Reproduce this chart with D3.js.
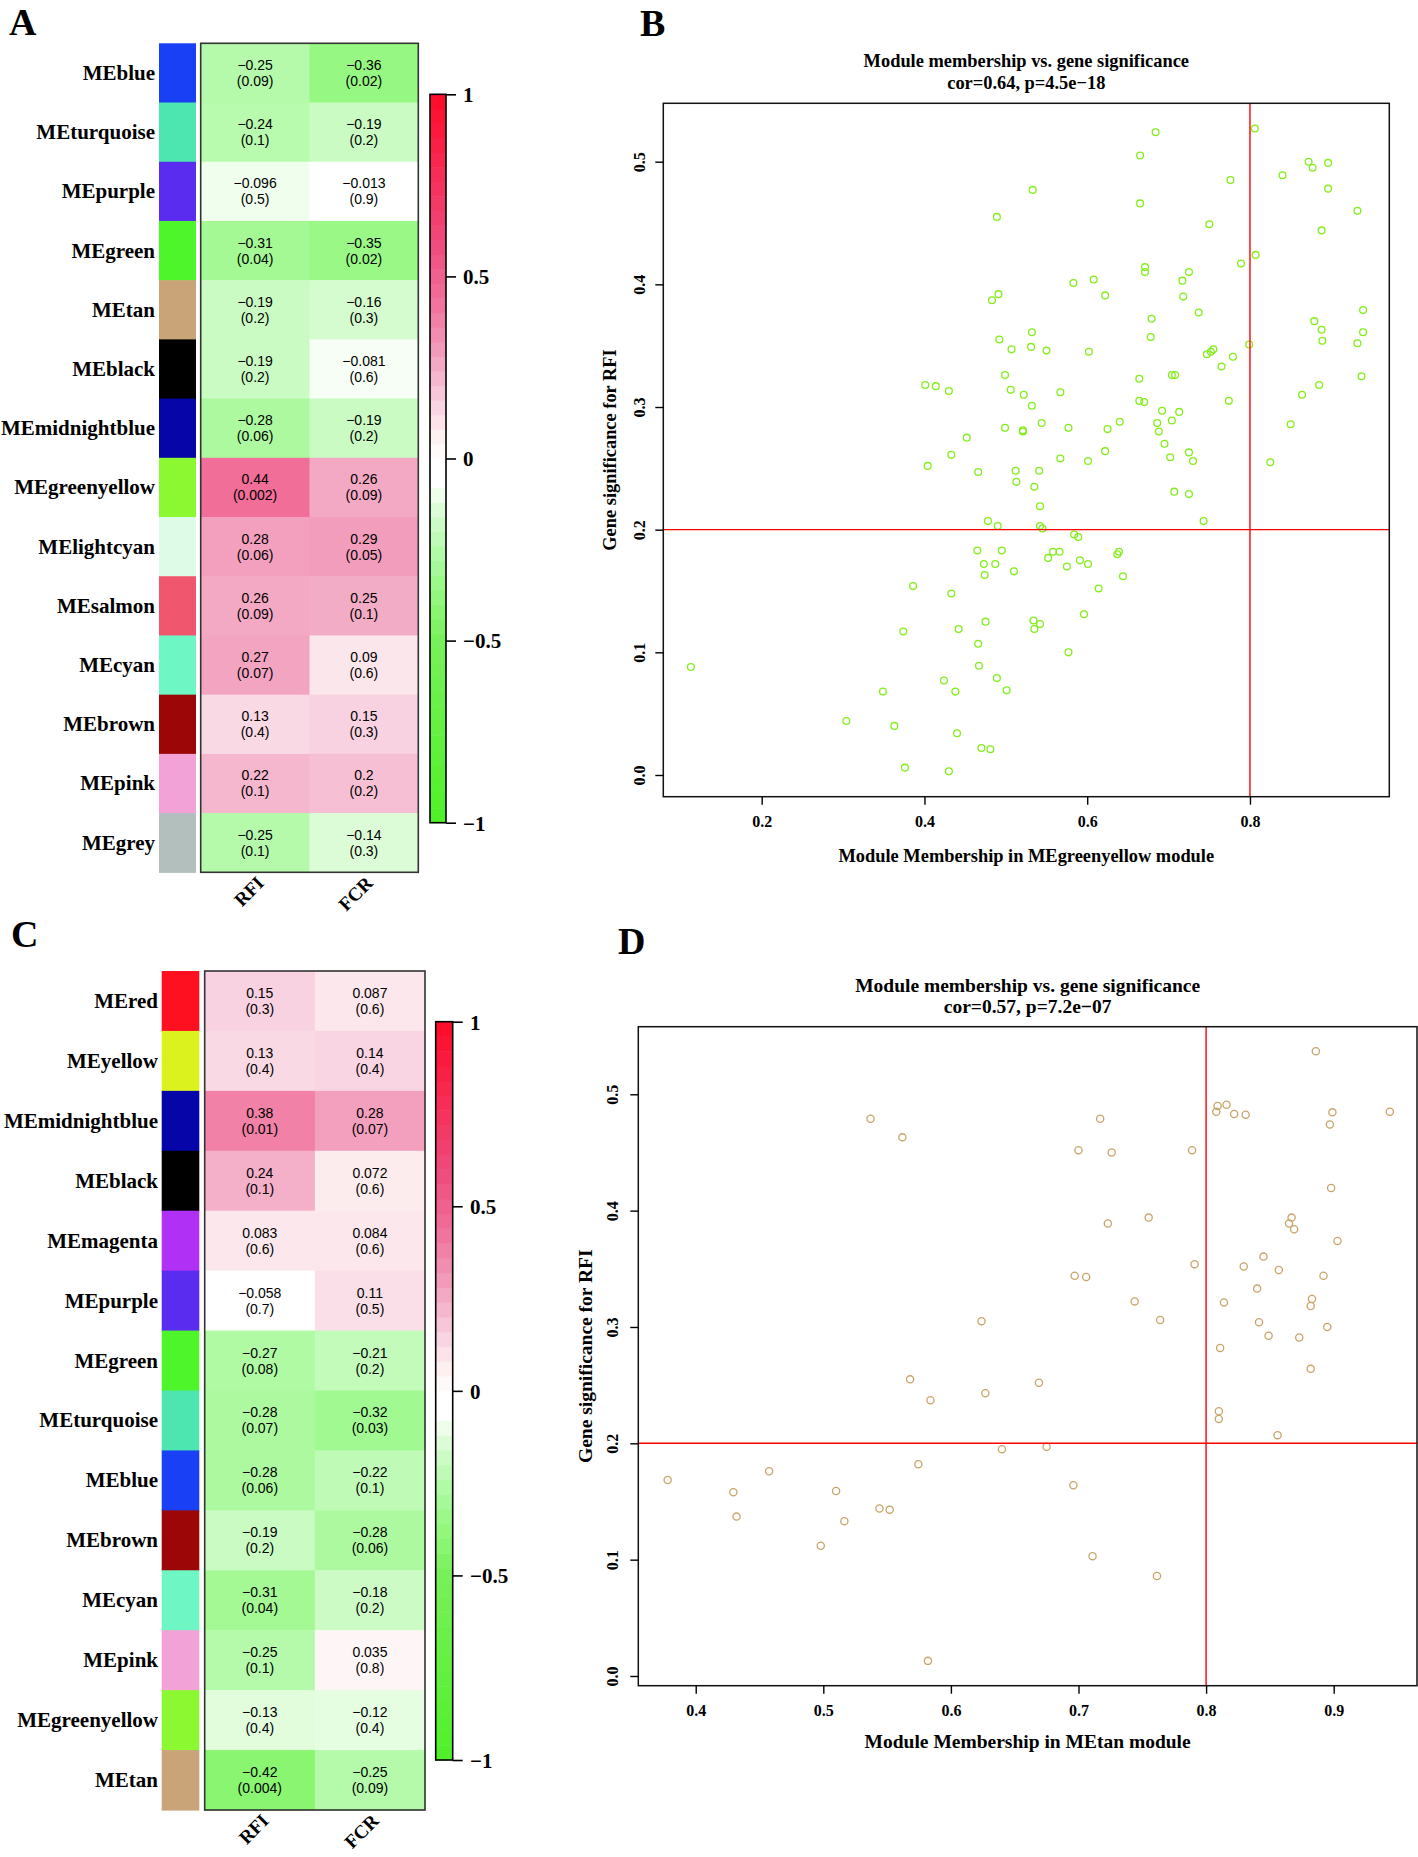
<!DOCTYPE html>
<html><head><meta charset="utf-8">
<script src="https://cdn.jsdelivr.net/npm/d3@7"></script>
<style>body{margin:0;background:#fff}svg{display:block}</style>
</head><body>
<svg id="fig" width="1418" height="1857"></svg>
<script>
// ---------------- DATA ----------------
const traits = ["RFI", "FCR"];

// Panel A
const modulesA = ["MEblue","MEturquoise","MEpurple","MEgreen","MEtan","MEblack","MEmidnightblue","MEgreenyellow","MElightcyan","MEsalmon","MEcyan","MEbrown","MEpink","MEgrey"];
const swatchA = ["#1a40f5","#4ee6b0","#5a2cf0","#4ef52a","#c8a478","#000000","#0505a8","#8cf832","#ddfbe6","#f0566e","#6ef6c4","#9c0606","#f2a2d6","#b2bfbc"];
const corA_RFI = [-0.25,-0.24,-0.096,-0.31,-0.19,-0.19,-0.28,0.44,0.28,0.26,0.27,0.13,0.22,-0.25];
const pA_RFI   = ["0.09","0.1","0.5","0.04","0.2","0.2","0.06","0.002","0.06","0.09","0.07","0.4","0.1","0.1"];
const corA_FCR = [-0.36,-0.19,-0.013,-0.35,-0.16,-0.081,-0.19,0.26,0.29,0.25,0.09,0.15,0.2,-0.14];
const pA_FCR   = ["0.02","0.2","0.9","0.02","0.3","0.6","0.2","0.09","0.05","0.1","0.6","0.3","0.2","0.3"];

// Panel C
const modulesC = ["MEred","MEyellow","MEmidnightblue","MEblack","MEmagenta","MEpurple","MEgreen","MEturquoise","MEblue","MEbrown","MEcyan","MEpink","MEgreenyellow","MEtan"];
const swatchC = ["#ff1020","#dcf21e","#0505a8","#000000","#b030f6","#5a2cf0","#4ef52a","#4ee6b0","#1a40f5","#9c0606","#6ef6c4","#f2a2d6","#8cf832","#c8a478"];
const corC_RFI = [0.15,0.13,0.38,0.24,0.083,-0.058,-0.27,-0.28,-0.28,-0.19,-0.31,-0.25,-0.13,-0.42];
const pC_RFI   = ["0.3","0.4","0.01","0.1","0.6","0.7","0.08","0.07","0.06","0.2","0.04","0.1","0.4","0.004"];
const corC_FCR = [0.087,0.14,0.28,0.072,0.084,0.11,-0.21,-0.32,-0.22,-0.28,-0.18,0.035,-0.12,-0.25];
const pC_FCR   = ["0.6","0.4","0.07","0.6","0.6","0.5","0.2","0.03","0.1","0.06","0.2","0.8","0.4","0.09"];

const legendTicks = [-1, -0.5, 0, 0.5, 1];
const legendTickLabels = ["\u22121", "\u22120.5", "0", "0.5", "1"];

// Panel B: module membership (MEgreenyellow) vs gene significance for RFI
const bMM = [0.533,0.489,0.483,0.491,0.532,0.531,0.492,0.507,0.499,0.401,
  0.414,0.430,0.506,0.522,0.532,0.544,0.499,0.521,0.521,0.452,
  0.433,0.404,0.466,0.512,0.513,0.535,0.541,0.542,0.478,0.490,
  0.542,0.545,0.684,0.806,0.665,0.776,0.840,0.872,0.877,0.896,
  0.896,0.665,0.932,0.750,0.888,0.807,0.789,0.671,0.671,0.725,
  0.717,0.583,0.608,0.622,0.718,0.737,0.939,0.679,0.879,0.888,
  0.939,0.889,0.932,0.678,0.799,0.550,0.602,0.747,0.752,0.755,
  0.779,0.765,0.937,0.885,0.864,0.567,0.664,0.704,0.708,0.664,
  0.670,0.774,0.850,0.692,0.713,0.640,0.686,0.688,0.704,0.577,
  0.625,0.695,0.622,0.567,0.601,0.702,0.725,0.730,0.825,0.707,
  0.725,0.743,0.584,0.589,0.465,0.495,0.473,0.487,0.474,0.510,
  0.386,0.433,0.374,0.442,0.475,0.534,0.542,0.535,0.466,0.467,
  0.113,0.424,0.489,0.349,0.438,0.501,0.304,0.363,0.440,0.470,
  0.481,0.376,0.430,0.558,0.566,0.552,0.575,0.591,0.601,0.637,
  0.639,0.644,0.614,0.596,0.577];
const bGS = [0.477,0.455,0.387,0.392,0.361,0.349,0.355,0.347,0.326,0.318,
  0.317,0.313,0.314,0.310,0.301,0.287,0.283,0.281,0.280,0.275,
  0.261,0.252,0.247,0.248,0.239,0.235,0.248,0.219,0.207,0.203,
  0.203,0.201,0.524,0.527,0.505,0.485,0.489,0.500,0.495,0.499,
  0.478,0.466,0.460,0.449,0.444,0.424,0.417,0.414,0.410,0.410,
  0.403,0.401,0.404,0.391,0.390,0.377,0.379,0.372,0.370,0.363,
  0.361,0.354,0.352,0.357,0.351,0.346,0.345,0.343,0.345,0.347,
  0.341,0.333,0.325,0.318,0.310,0.312,0.323,0.326,0.326,0.305,
  0.304,0.305,0.286,0.297,0.296,0.288,0.287,0.280,0.289,0.283,
  0.282,0.270,0.264,0.258,0.256,0.259,0.263,0.256,0.255,0.231,
  0.229,0.207,0.196,0.194,0.183,0.183,0.172,0.172,0.163,0.166,
  0.154,0.148,0.117,0.119,0.125,0.126,0.123,0.119,0.107,0.089,
  0.088,0.077,0.079,0.068,0.068,0.069,0.044,0.040,0.034,0.022,
  0.021,0.006,0.003,0.182,0.182,0.177,0.170,0.175,0.172,0.180,
  0.182,0.162,0.152,0.131,0.100];
const bTicksX = [0.2, 0.4, 0.6, 0.8];
const bTicksY = [0.0, 0.1, 0.2, 0.3, 0.4, 0.5];

// Panel D: module membership (MEtan) vs gene significance for RFI
const dMM = [0.537,0.562,0.624,0.568,0.627,0.584,0.640,0.5745,0.378,0.4295,
  0.4575,0.432,0.510,0.5165,0.498,0.544,0.552,0.582,0.669,0.675,
  0.810,0.810,0.856,0.696,0.711,0.7615,0.886,0.809,0.808,0.816,
  0.822,0.831,0.899,0.897,0.944,0.717,0.700,0.726,0.789,0.898,
  0.755,0.723,0.867,0.865,0.869,0.903,0.791,0.697,0.706,0.845,
  0.8295,0.857,0.892,0.840,0.744,0.814,0.883,0.882,0.764,0.8415,
  0.895,0.849,0.873,0.811,0.882];
const dGS = [0.479,0.463,0.305,0.255,0.243,0.237,0.195,0.182,0.1685,0.158,
  0.176,0.137,0.159,0.133,0.112,0.144,0.143,0.013,0.252,0.197,
  0.2275,0.221,0.207,0.164,0.103,0.086,0.537,0.490,0.485,0.491,
  0.483,0.4825,0.4845,0.474,0.485,0.479,0.452,0.450,0.452,0.4195,
  0.394,0.389,0.394,0.389,0.384,0.374,0.354,0.344,0.343,0.3605,
  0.352,0.349,0.344,0.333,0.322,0.321,0.324,0.318,0.306,0.304,
  0.300,0.2925,0.291,0.282,0.264];
const dTicksX = [0.4, 0.5, 0.6, 0.7, 0.8, 0.9];
const dTicksY = [0.0, 0.1, 0.2, 0.3, 0.4, 0.5];

// ---------------- DRAWING ----------------
const svg = d3.select("#fig");
svg.append("rect").attr("width",1418).attr("height",1857).attr("fill","#fff");
const serif = "'Liberation Serif','Times New Roman',serif";
const sans = "'Liberation Sans',Arial,sans-serif";
const minus = s => String(s).replace("-", "\u2212");

const heatColor = d3.scaleLinear()
  .domain([-1, -0.5, -0.36, -0.25, -0.15, -0.06, 0, 0.06, 0.15, 0.28, 0.44, 0.6, 1])
  .range(["#50f028","#78f05a","#96f882","#b4faaa","#d8fcd2","#ffffff","#ffffff","#fdf0f0","#f8d2e1","#f2a0be","#f06e98","#ee4a7c","#ff0a28"])
  .clamp(true);

function heatmap(o) {
  const g = svg.append("g");
  const y = d3.scaleBand().domain(o.modules).range([o.top, o.bottom]);
  const x = d3.scaleBand().domain(traits).range([o.left, o.right]);
  // module colour strip
  g.selectAll(".sw").data(o.modules).join("rect")
    .attr("x", o.stripL).attr("width", o.stripR - o.stripL)
    .attr("y", d => y(d)).attr("height", y.bandwidth() + 0.6)
    .attr("fill", (d, i) => o.swatch[i]);
  // row labels
  g.selectAll(".rl").data(o.modules).join("text")
    .attr("x", o.labelX).attr("y", d => y(d) + y.bandwidth() / 2 + 7)
    .attr("text-anchor", "end").attr("font-family", serif).attr("font-weight", "bold")
    .attr("font-size", 21).attr("fill", "#000").text(d => d);
  // cells
  const cells = [];
  o.modules.forEach((m, i) => {
    cells.push({m, t: "RFI", r: o.corRFI[i], p: o.pRFI[i]});
    cells.push({m, t: "FCR", r: o.corFCR[i], p: o.pFCR[i]});
  });
  g.selectAll(".cell").data(cells).join("rect")
    .attr("x", d => x(d.t)).attr("y", d => y(d.m))
    .attr("width", x.bandwidth() + 0.5).attr("height", y.bandwidth() + 0.5)
    .attr("fill", d => heatColor(d.r));
  const tg = g.selectAll(".ct").data(cells).join("text")
    .attr("text-anchor", "middle").attr("font-family", sans).attr("font-size", 14).attr("fill", "#000");
  tg.append("tspan").attr("x", d => x(d.t) + x.bandwidth() / 2).attr("y", d => y(d.m) + y.bandwidth() / 2 - 3).text(d => minus(d.r));
  tg.append("tspan").attr("x", d => x(d.t) + x.bandwidth() / 2).attr("y", d => y(d.m) + y.bandwidth() / 2 + 13).text(d => "(" + d.p + ")");
  // border
  g.append("rect").attr("x", o.left).attr("y", o.top).attr("width", o.right - o.left).attr("height", o.bottom - o.top)
    .attr("fill", "none").attr("stroke", "#333").attr("stroke-width", 1.6);
  // trait labels
  g.selectAll(".tl").data(traits).join("text")
    .attr("transform", d => `translate(${x(d) + x.bandwidth() / 2 + 10},${o.bottom + 12}) rotate(-45)`)
    .attr("text-anchor", "end").attr("font-family", serif).attr("font-weight", "bold").attr("font-size", 19)
    .attr("fill", "#000").text(d => d);
  // colour legend
  const ly = d3.scaleLinear().domain([-1, 1]).range([o.legBottom, o.legTop]);
  const steps = d3.range(50).map(i => -1 + (i + 0.5) * 2 / 50);
  g.selectAll(".lg").data(steps).join("rect")
    .attr("x", o.legL).attr("width", o.legR - o.legL)
    .attr("y", d => ly(d + 1 / 50)).attr("height", Math.abs(ly(0) - ly(2 / 50)) + 0.5)
    .attr("fill", d => heatColor(d));
  g.append("rect").attr("x", o.legL).attr("y", o.legTop).attr("width", o.legR - o.legL).attr("height", o.legBottom - o.legTop)
    .attr("fill", "none").attr("stroke", "#000").attr("stroke-width", 1.6);
  const la = g.append("g").attr("transform", `translate(${o.legR},0)`)
    .call(d3.axisRight(ly).tickValues(legendTicks).tickSize(10).tickFormat((d, i) => legendTickLabels[i]));
  la.select(".domain").remove();
  la.selectAll("line").attr("stroke", "#000").attr("stroke-width", 1.6);
  la.selectAll("text").attr("x", o.legLabelX - o.legR).attr("dy", "0.35em")
    .attr("font-family", serif).attr("font-weight", "bold").attr("font-size", 21).attr("fill", "#000");
}

function scatter(o) {
  const g = svg.append("g");
  const x = d3.scaleLinear().domain(o.xDomain).range([o.left, o.right]);
  const y = d3.scaleLinear().domain(o.yDomain).range([o.bottom, o.top]);
  // titles
  g.append("text").attr("x", (o.left + o.right) / 2).attr("y", o.title1Y).attr("text-anchor", "middle")
    .attr("font-family", serif).attr("font-weight", "bold").attr("font-size", o.titleSize).text("Module membership vs. gene significance");
  g.append("text").attr("x", (o.left + o.right) / 2).attr("y", o.title2Y).attr("text-anchor", "middle")
    .attr("font-family", serif).attr("font-weight", "bold").attr("font-size", o.titleSize).text(o.title2);
  // points
  g.selectAll("circle").data(o.mm.map((v, i) => [v, o.gs[i]])).join("circle")
    .attr("cx", d => x(d[0])).attr("cy", d => y(d[1])).attr("r", o.r)
    .attr("fill", "none").attr("stroke", o.color).attr("stroke-width", 1.3);
  // reference lines
  g.append("line").attr("x1", x(0.8)).attr("x2", x(0.8)).attr("y1", o.top).attr("y2", o.bottom)
    .attr("stroke", "#ff0000").attr("stroke-width", 1.4);
  g.append("line").attr("x1", o.left).attr("x2", o.right).attr("y1", y(0.2)).attr("y2", y(0.2))
    .attr("stroke", "#ff0000").attr("stroke-width", 1.4);
  // box
  g.append("rect").attr("x", o.left).attr("y", o.top).attr("width", o.right - o.left).attr("height", o.bottom - o.top)
    .attr("fill", "none").attr("stroke", "#111").attr("stroke-width", 1.5);
  // x axis
  const xa = g.append("g").attr("transform", `translate(0,${o.bottom})`)
    .call(d3.axisBottom(x).tickValues(o.xTicks).tickFormat(d3.format(".1f")).tickSize(8).tickPadding(11));
  xa.select(".domain").remove();
  xa.selectAll("line").attr("stroke", "#000").attr("stroke-width", 1.4);
  xa.selectAll("text").attr("font-family", serif).attr("font-weight", "bold").attr("font-size", 16).attr("fill", "#000");
  // y axis
  const ya = g.append("g").attr("transform", `translate(${o.left},0)`)
    .call(d3.axisLeft(y).tickValues(o.yTicks).tickFormat(d3.format(".1f")).tickSize(8));
  ya.select(".domain").remove();
  ya.selectAll("line").attr("stroke", "#000").attr("stroke-width", 1.4);
  ya.selectAll("text").attr("x", null).attr("dy", null)
    .attr("transform", `translate(${-o.yTickOff},0) rotate(-90)`).attr("text-anchor", "middle")
    .attr("font-family", serif).attr("font-weight", "bold").attr("font-size", 16).attr("fill", "#000");
  // axis titles
  g.append("text").attr("x", (o.left + o.right) / 2).attr("y", o.xLabelY).attr("text-anchor", "middle")
    .attr("font-family", serif).attr("font-weight", "bold").attr("font-size", o.titleSize).text(o.xLabel);
  g.append("text").attr("transform", `translate(${o.yLabelX},${(o.top + o.bottom) / 2}) rotate(-90)`)
    .attr("text-anchor", "middle").attr("font-family", serif).attr("font-weight", "bold").attr("font-size", o.titleSize)
    .text("Gene significance for RFI");
}

heatmap({modules: modulesA, swatch: swatchA, corRFI: corA_RFI, pRFI: pA_RFI, corFCR: corA_FCR, pFCR: pA_FCR,
  top: 43.3, bottom: 872.3, left: 200.7, right: 418.3, stripL: 159, stripR: 196, labelX: 155,
  legTop: 94.3, legBottom: 822.7, legL: 430, legR: 446, legLabelX: 463});

heatmap({modules: modulesC, swatch: swatchC, corRFI: corC_RFI, pRFI: pC_RFI, corFCR: corC_FCR, pFCR: pC_FCR,
  top: 971, bottom: 1810, left: 204.7, right: 425, stripL: 161.7, stripR: 199.3, labelX: 158,
  legTop: 1021.7, legBottom: 1760, legL: 435.7, legR: 452.7, legLabelX: 470});

scatter({mm: bMM, gs: bGS, color: "#84ee1c", r: 3.4,
  left: 663.3, right: 1389.3, top: 103.3, bottom: 796.7,
  xDomain: [0.0791, 0.9712], yDomain: [-0.0177, 0.5476], xTicks: bTicksX, yTicks: bTicksY,
  title1Y: 67, title2Y: 89, title2: "cor=0.64, p=4.5e\u221218", titleSize: 18.4,
  xLabel: "Module Membership in MEgreenyellow module", xLabelY: 861.7, yLabelX: 616, yTickOff: 18.5});

scatter({mm: dMM, gs: dGS, color: "#c9a46a", r: 3.6,
  left: 638.3, right: 1417, top: 1026.7, bottom: 1685.7,
  xDomain: [0.355, 0.9653], yDomain: [-0.00834, 0.5581], xTicks: dTicksX, yTicks: dTicksY,
  title1Y: 991.7, title2Y: 1013.3, title2: "cor=0.57, p=7.2e\u221207", titleSize: 19.5,
  xLabel: "Module Membership in MEtan module", xLabelY: 1747.7, yLabelX: 592, yTickOff: 20});

// panel letters
const letters = [["A", 9, 35], ["B", 640, 36], ["C", 11, 947], ["D", 618, 954]];
svg.selectAll(".pl").data(letters).join("text")
  .attr("x", d => d[1]).attr("y", d => d[2])
  .attr("font-family", serif).attr("font-weight", "bold").attr("font-size", 38).attr("fill", "#000")
  .text(d => d[0]);
</script>
</body></html>
